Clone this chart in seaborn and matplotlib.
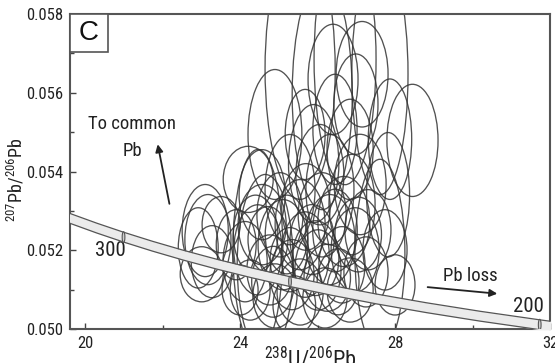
import numpy as np
import pandas as pd
import matplotlib
matplotlib.use("Agg")
import matplotlib.pyplot as plt
from matplotlib import font_manager as fm
from matplotlib.patches import Ellipse, Rectangle
import seaborn as sns

# ---------------- data ----------------
# error ellipses: centre (238U/206Pb, 207Pb/206Pb) and full 2-sigma width / height
u_pb = [25.55, 26.12, 26.71, 27.61, 26.40, 27.15, 26.99, 26.45, 25.68, 26.84,
        27.87, 26.06, 25.29, 27.10, 28.45, 27.82, 24.90, 24.21, 23.10, 23.01,
        23.51, 23.17, 23.28, 22.92,
        24.13, 24.46, 24.77, 25.11, 25.34, 25.68, 26.01, 26.32, 26.63, 26.97,
        27.25, 24.57, 25.03, 25.55, 26.12, 26.68, 27.30, 24.26, 24.90, 25.55,
        26.19, 26.84, 25.86, 25.29, 26.53, 24.72, 23.90, 27.74, 28.00, 24.00,
        24.46, 24.65, 27.61, 24.57, 26.32, 26.89,
        25.20, 25.95, 26.45, 24.85, 25.70, 26.25, 25.40, 24.40, 27.05, 25.90]
pb_pb = [0.05660, 0.05596, 0.05685, 0.05647, 0.05634, 0.05647, 0.05571, 0.05507, 0.05494, 0.05456,
         0.05482, 0.05392, 0.05354, 0.05367, 0.05479, 0.05341, 0.05494, 0.05380, 0.05250, 0.05139,
         0.05265, 0.05227, 0.05171, 0.05206,
         0.05171, 0.05201, 0.05150, 0.05214, 0.05138, 0.05189, 0.05150, 0.05227, 0.05163, 0.05201,
         0.05145, 0.05265, 0.05290, 0.05265, 0.05290, 0.05273, 0.05252, 0.05099, 0.05084, 0.05094,
         0.05079, 0.05099, 0.05227, 0.05176, 0.05120, 0.05227, 0.05214, 0.05201, 0.05112, 0.05099,
         0.05201, 0.05163, 0.05189, 0.05341, 0.05354, 0.05316,
         0.05240, 0.05180, 0.05250, 0.05120, 0.05310, 0.05130, 0.05060, 0.05240, 0.05240, 0.05420]
ell_w = [1.81, 1.55, 1.60, 1.45, 1.29, 1.34, 1.14, 1.14, 1.03, 1.19,
         1.12, 1.24, 1.29, 1.34, 1.32, 1.11, 1.39, 1.29, 1.19, 1.11,
         0.98, 1.19, 1.08, 1.03,
         1.14, 1.24, 1.19, 1.29, 1.14, 1.24, 1.19, 1.29, 1.19, 1.24,
         1.14, 1.24, 1.19, 1.29, 1.24, 1.34, 1.19, 1.03, 1.14, 1.19,
         1.14, 1.19, 1.14, 1.03, 1.08, 1.03, 1.03, 1.14, 1.03, 0.93,
         1.29, 1.45, 1.29, 1.19, 1.24, 1.19,
         1.10, 1.20, 1.15, 1.10, 1.25, 1.20, 1.10, 1.15, 1.20, 1.30]
ell_h = [0.00662, 0.00586, 0.00637, 0.00612, 0.00280, 0.00268, 0.00255, 0.00280, 0.00229, 0.00255,
         0.00306, 0.00255, 0.00280, 0.00255, 0.00285, 0.00316, 0.00330, 0.00168, 0.00234, 0.00140,
         0.00143, 0.00229, 0.00183, 0.00204,
         0.00204, 0.00229, 0.00178, 0.00229, 0.00178, 0.00217, 0.00204, 0.00229, 0.00194, 0.00214,
         0.00178, 0.00204, 0.00214, 0.00229, 0.00214, 0.00229, 0.00204, 0.00153, 0.00163, 0.00168,
         0.00153, 0.00163, 0.00178, 0.00163, 0.00168, 0.00168, 0.00178, 0.00204, 0.00153, 0.00127,
         0.00510, 0.00459, 0.00484, 0.00229, 0.00280, 0.00255,
         0.00200, 0.00190, 0.00210, 0.00180, 0.00220, 0.00170, 0.00150, 0.00200, 0.00190, 0.00300]

# concordia ages (Ma) and labelled ages
conc_ages = [195, 200, 210, 220, 230, 240, 250, 260, 270, 280, 290, 300, 310, 320, 330]
marker_ages = [200, 250, 300]
label_ages = ["200", "300"]

x_ticks = [20, 24, 28, 32]
y_ticks = [0.050, 0.052, 0.054, 0.056, 0.058]

# ---------------- style ----------------
sns.set_style("ticks")

names = {f.name for f in fm.fontManager.ttflist}
narrow = [f.name for f in fm.fontManager.ttflist
          if ('Condensed' in f.name or 'Narrow' in f.name)]
pref = ['Liberation Sans Narrow', 'Roboto Condensed', 'Open Sans Condensed',
        'Noto Sans Condensed', 'DejaVu Sans Condensed']
main_font = None
for p in pref:
    if p in names:
        main_font = p
        break
if main_font is None and narrow:
    main_font = sorted(narrow)[0]
condensed = main_font is not None
if main_font is None:
    main_font = 'Liberation Sans'

plt.rcParams['font.family'] = [main_font, 'DejaVu Sans']
plt.rcParams['mathtext.fontset'] = 'custom'
plt.rcParams['mathtext.rm'] = main_font
plt.rcParams['mathtext.it'] = main_font
scale = 1.0 if condensed else 0.85

W, H = 555, 363
fig = plt.figure(figsize=(W / 100, H / 100), dpi=100)
ax = fig.add_axes([70 / W, 1 - 329 / H, 480 / W, 315 / H])

ink = '#333333'

# ellipses
for x, y, w, h in zip(u_pb, pb_pb, ell_w, ell_h):
    ax.add_patch(Ellipse((x, y), w, h, facecolor='none', edgecolor=ink,
                         lw=0.95, alpha=0.85, zorder=2))

# concordia
l238, l235 = 1.55125e-4, 9.8485e-4
t = np.array(conc_ages, dtype=float)
e8 = np.exp(l238 * t) - 1
e5 = np.exp(l235 * t) - 1
cx = 1 / e8
cy = e5 / e8 / 137.88
half = 0.000125
order = np.argsort(cx)
cx, cy = cx[order], cy[order]
ax.fill_between(cx, cy - half, cy + half, color='#ebebeb', zorder=5, lw=0)
df_up = pd.DataFrame({'x': cx, 'y': cy + half})
df_lo = pd.DataFrame({'x': cx, 'y': cy - half})
sns.lineplot(data=df_up, x='x', y='y', ax=ax, color='#555555', lw=0.9, zorder=6, sort=True)
sns.lineplot(data=df_lo, x='x', y='y', ax=ax, color='#555555', lw=0.9, zorder=6, sort=True)

for a in marker_ages:
    e8a = np.exp(l238 * a) - 1
    e5a = np.exp(l235 * a) - 1
    mx, my = 1 / e8a, e5a / e8a / 137.88
    ax.add_patch(Ellipse((mx, my), 0.07, 2.2 * half, facecolor='#cfcfcf',
                         edgecolor='#555555', lw=0.8, zorder=7))

ax.text(20.65, 0.05199, label_ages[1], fontsize=15 * scale, ha='center', va='center', color='#222')
ax.text(31.45, 0.05056, label_ages[0], fontsize=15 * scale, ha='center', va='center', color='#222')

# arrows + annotations
ax.annotate('', xy=(21.86, 0.05476), xytext=(22.19, 0.05311),
            arrowprops=dict(arrowstyle='-|>', color='#222', lw=1.3, mutation_scale=11))
ax.text(21.21, 0.05520, 'To common', fontsize=13.5 * scale, ha='center', va='center', color='#222')
ax.text(21.21, 0.05451, 'Pb', fontsize=13.5 * scale, ha='center', va='center', color='#222')
ax.annotate('', xy=(30.71, 0.05089), xytext=(28.77, 0.05107),
            arrowprops=dict(arrowstyle='-|>', color='#222', lw=1.3, mutation_scale=11))
ax.text(29.94, 0.05134, 'Pb loss', fontsize=13.5 * scale, ha='center', va='center', color='#222')

# panel letter box
ax.add_patch(Rectangle((0, 1 - 0.121), 0.079, 0.121, transform=ax.transAxes,
                       facecolor='white', edgecolor='#555555', lw=1.2, zorder=10))
ax.text(0.0395, 1 - 0.0605, 'C', transform=ax.transAxes, fontsize=20,
        family=['Liberation Sans', 'DejaVu Sans'], ha='center', va='center',
        zorder=11, color='#111')

# axes
ax.set_xlim(19.61, 32.0)
ax.set_ylim(0.050, 0.058)
ax.set_xticks(x_ticks)
ax.set_xticklabels([str(v) for v in x_ticks])
ax.set_xticks([22, 26, 30], minor=True)
ax.set_yticks(y_ticks)
ax.set_yticklabels([f'{v:.3f}' for v in y_ticks])
ax.set_yticks([0.051, 0.053, 0.055, 0.057], minor=True)
ax.tick_params(which='both', direction='in', colors='#444', labelcolor='#222',
               labelsize=12 * scale, width=1.0)
ax.tick_params(which='major', length=4, pad=5)
ax.tick_params(which='minor', length=3)
for s in ax.spines.values():
    s.set_visible(True)
    s.set_color('#555555')
    s.set_linewidth(1.5)
ax.set_xlabel('')
ax.set_ylabel('')

fig.text(16 / W, 1 - 180 / H, r'$^{207}$Pb/$^{206}$Pb', rotation=90,
         ha='center', va='center', fontsize=13 * scale, color='#222')
fig.text(310 / W, 1 - 346 / H, r'$^{238}$U/$^{206}$Pb', ha='center', va='top',
         fontsize=16 * scale, color='#222')
fig.text(310 / W, 1 - 5 / H, r'$^{207}$Pb/$^{206}$Pb', ha='center', va='bottom',
         fontsize=16 * scale, color='#222')

fig.savefig('out.png', dpi=100)
